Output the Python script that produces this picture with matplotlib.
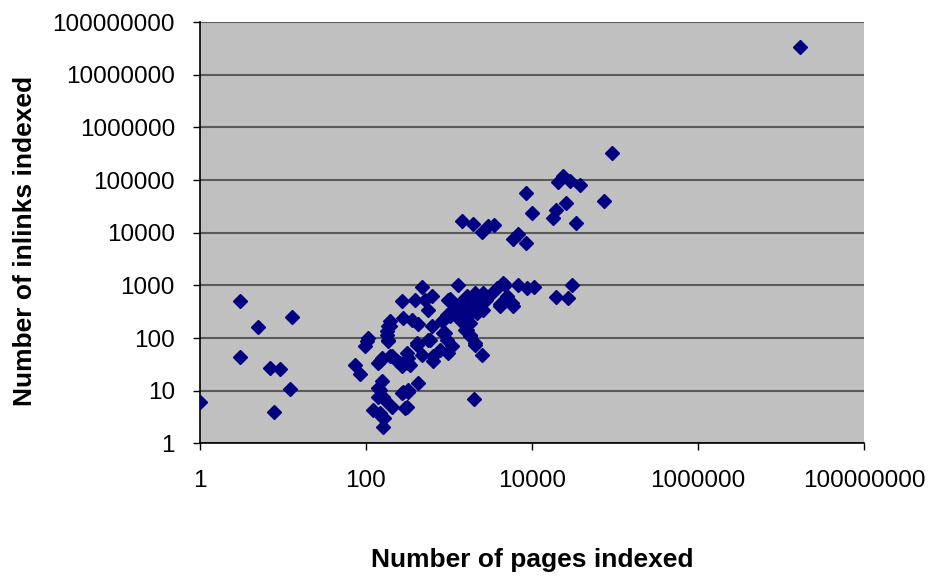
import matplotlib.pyplot as plt
from matplotlib.ticker import FixedLocator, NullLocator, FixedFormatter

plt.rcParams['font.family'] = ['Liberation Sans', 'DejaVu Sans']

# values (log-log scatter)
pages = [
    1, 3.0, 3.0, 5.0, 7.0, 9.2, 12.9, 12.1, 7.8,
    74, 85, 97, 102, 107, 122, 141, 141, 141, 147, 147, 147, 155, 155, 155,
    162, 162, 169, 166, 178, 178, 186, 186, 186, 195, 195, 195, 204, 204, 234,
    257, 270, 270, 270, 282, 282, 309, 309, 294, 323, 323, 323, 323, 339, 356,
    389, 407, 407, 428, 428, 469, 469, 515, 563, 563, 590, 619, 619, 647, 647,
    780, 815, 850, 850, 890, 935, 935, 980, 985, 1028, 1030, 1075, 1120, 1237,
    1295, 1350, 1350, 1480, 1560, 1630, 1630, 1700, 1780, 1780, 1780, 1870,
    1970, 1990, 2050, 2055, 2055, 2150, 2360, 2500, 2570, 2570, 2830, 3100,
    3760, 4100, 4110, 4480, 4730, 4950, 5690, 5950, 6840, 8660, 10500,
    1446, 1963, 2477, 2977, 3486, 5950, 6840, 8470, 8470, 9910, 18100, 19400,
    20700, 23800, 25700, 28700, 34000, 37900, 73600, 92900,
    30000, 19400, 27400, 1.7e7,
]
inlinks = [
    6.2, 500, 43, 160, 27.5, 25.5, 250, 10.7, 4.0,
    31, 21, 69, 86, 100, 4.3, 7.7, 11, 33, 10.4, 36, 3.7, 15, 41.5, 3.2,
    2.0, 7.7, 6.7, 3.0, 116, 134, 166, 93, 86, 166, 45, 208, 45, 4.8, 36,
    33, 29, 9, 500, 240, 9.6, 52, 4.8, 4.6, 33, 41.5, 9.6, 10.4, 31, 224,
    537, 74, 80, 187, 14, 48, 920, 537, 346, 93, 93, 166, 640, 36, 45,
    60, 208, 125, 224, 125, 93, 278, 52, 537, 560, 258, 69, 346, 300,
    1000, 224, 465, 346, 145, 145, 620, 258, 107, 193, 116, 400,
    465, 6.9, 720, 75, 80, 300, 537, 47, 346, 720, 537, 670,
    890, 400, 435, 1120, 1035, 620, 465, 400, 1035, 890, 930,
    16600, 14400, 10300, 13400, 13950, 7450, 9270, 6450, 56000, 24000, 19300, 27000,
    92000, 120000, 37300, 96600, 15100, 79000, 40000, 324000,
    1000, 600, 578, 3.3e7,
]

fig = plt.figure(figsize=(9.34, 5.77), dpi=100)
ax = fig.add_axes([0.2141, 0.2317, 0.711, 0.730])
ax.set_facecolor('#C0C0C0')

ax.plot(pages, inlinks, linestyle='none', marker='D', markersize=7,
        color='#000080', markeredgecolor='#000080', zorder=3)

ax.set_xscale('log')
ax.set_yscale('log')
ax.set_xlim(1, 1e8)
ax.set_ylim(1, 1e8)

xt = [10 ** k for k in range(0, 9, 2)]
yt = [10 ** k for k in range(0, 9)]
ax.xaxis.set_major_locator(FixedLocator(xt))
ax.xaxis.set_major_formatter(FixedFormatter([str(v) for v in xt]))
ax.xaxis.set_minor_locator(NullLocator())
ax.yaxis.set_major_locator(FixedLocator(yt))
ax.yaxis.set_major_formatter(FixedFormatter([str(v) for v in yt]))
ax.yaxis.set_minor_locator(NullLocator())

ax.grid(axis='y', color='#5a5a5a', linewidth=1.5, zorder=1)
ax.set_axisbelow(True)
for side in ['top', 'right']:
    ax.spines[side].set_visible(False)
for side in ['left', 'bottom']:
    ax.spines[side].set_color('black')
    ax.spines[side].set_linewidth(1.2)

ax.tick_params(axis='x', direction='out', length=5, width=1, pad=14,
               labelsize=17.5, colors='black')
ax.tick_params(axis='y', direction='out', length=5, width=1, pad=13,
               labelsize=17.5, colors='black')

fig.text(0.57, 0.029, 'Number of pages indexed', ha='center', va='center',
         fontsize=19, fontweight='bold')
fig.text(0.027, 0.582, 'Number of inlinks indexed', ha='center', va='center',
         rotation=90, fontsize=19, fontweight='bold')

fig.savefig('out.png', dpi=100)
